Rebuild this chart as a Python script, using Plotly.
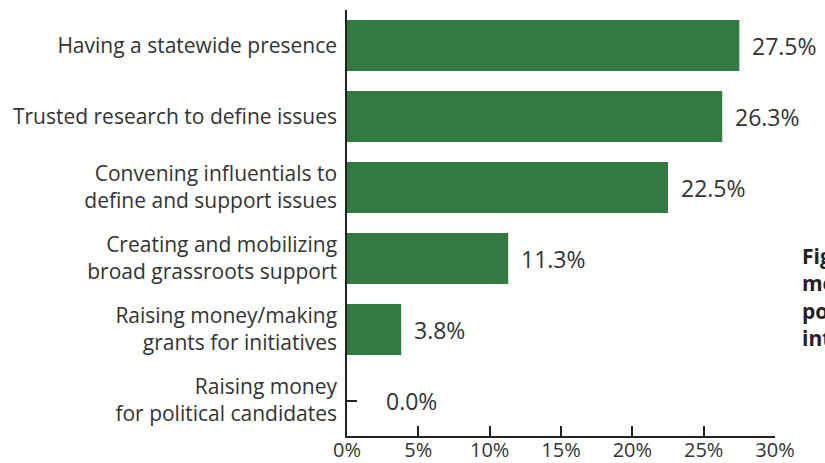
import plotly.graph_objects as go

categories = [
    "Having a statewide presence",
    "Trusted research to define issues",
    "Convening influentials to<br>define and support issues",
    "Creating and mobilizing<br>broad grassroots support",
    "Raising money/making<br>grants for initiatives",
    "Raising money<br>for political candidates",
]
values = [27.5, 26.3, 22.5, 11.3, 3.8, 0.0]
x_ticks = [0, 5, 10, 15, 20, 25, 30]
x_tick_labels = ["0%", "5%", "10%", "15%", "20%", "25%", "30%"]

bar_color = "#337942"
text_color = "#333333"
font_family = "'Open Sans', Lato, sans-serif"

fig = go.Figure()
fig.add_trace(go.Bar(
    y=categories,
    x=values,
    orientation="h",
    marker=dict(color=bar_color, line=dict(width=0)),
    hoverinfo="skip",
))

# value labels to the right of each bar
for cat, v in zip(categories, values):
    fig.add_annotation(
        x=v, y=cat, xref="x", yref="y",
        text=f"{v:.1f}%",
        showarrow=False, xanchor="left",
        xshift=37 if v == 0 else 11,
        font=dict(family=font_family, size=23, color=text_color),
    )

# caption text at the right edge
fig.add_annotation(
    x=1.058, y=0.46, xref="paper", yref="paper",
    text="<b>Figure</b><br><b>most</b><br><b>policy</b><br><b>into</b>",
    showarrow=False, xanchor="left", yanchor="top", align="left",
    font=dict(family=font_family, size=21, color="#222222"),
)

fig.update_layout(
    width=825, height=463,
    margin=dict(l=347, r=50, t=10, b=27, autoexpand=False),
    paper_bgcolor="white", plot_bgcolor="white",
    showlegend=False,
    bargap=0.28,
    font=dict(family=font_family, size=21, color=text_color),
    xaxis=dict(
        range=[0, 30], tickvals=x_ticks, ticktext=x_tick_labels,
        showgrid=False, zeroline=False,
        showline=True, linecolor="#222222", linewidth=2,
        ticks="inside", ticklen=10, tickwidth=2, tickcolor="#222222",
        tickfont=dict(size=20, color=text_color),
        ticklabelstandoff=-5,
        automargin=False,
        fixedrange=True,
    ),
    yaxis=dict(
        categoryorder="array", categoryarray=categories[::-1],
        showgrid=False, zeroline=False,
        showline=True, linecolor="#222222", linewidth=1.5,
        ticks="inside", ticklen=10, tickwidth=1.5, tickcolor="#222222",
        tickfont=dict(size=21, color=text_color),
        ticklabelstandoff=4,
        layer="below traces",
        automargin=False,
        fixedrange=True,
    ),
)

fig.write_html("out.html")
